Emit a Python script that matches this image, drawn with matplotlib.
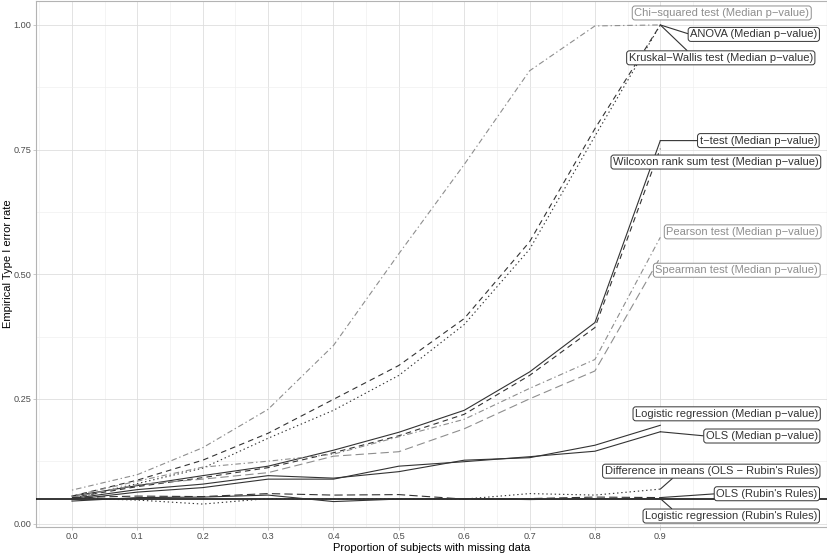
import matplotlib
matplotlib.use("Agg")
import matplotlib.pyplot as plt

plt.rcParams["font.family"] = ["Liberation Sans", "DejaVu Sans"]
plt.rcParams["lines.scale_dashes"] = False

# proportion of subjects with missing data
missing = [0.0, 0.1, 0.2, 0.3, 0.4, 0.5, 0.6, 0.7, 0.8, 0.9]

# empirical type I error rate per method
chi_squared = [0.067, 0.098, 0.152, 0.229, 0.357, 0.541, 0.720, 0.908, 0.998, 1.000]
anova = [0.055, 0.087, 0.127, 0.181, 0.249, 0.317, 0.411, 0.565, 0.792, 1.000]
kruskal = [0.050, 0.080, 0.111, 0.171, 0.227, 0.297, 0.399, 0.550, 0.777, 1.000]
t_test = [0.055, 0.076, 0.096, 0.115, 0.147, 0.183, 0.227, 0.304, 0.403, 0.768]
wilcoxon = [0.052, 0.074, 0.092, 0.112, 0.142, 0.176, 0.219, 0.297, 0.393, 0.752]
pearson = [0.055, 0.085, 0.113, 0.125, 0.139, 0.174, 0.209, 0.271, 0.329, 0.574]
spearman = [0.052, 0.078, 0.089, 0.102, 0.135, 0.144, 0.190, 0.250, 0.306, 0.534]
logistic_median = [0.050, 0.068, 0.079, 0.096, 0.091, 0.104, 0.127, 0.132, 0.157, 0.197]
ols_median = [0.048, 0.063, 0.072, 0.089, 0.089, 0.115, 0.124, 0.134, 0.145, 0.184]
diff_means_rr = [0.051, 0.047, 0.039, 0.050, 0.049, 0.050, 0.049, 0.060, 0.057, 0.069]
ols_rr = [0.052, 0.055, 0.054, 0.060, 0.057, 0.058, 0.049, 0.050, 0.053, 0.052]
logistic_rr = [0.045, 0.052, 0.053, 0.057, 0.044, 0.049, 0.050, 0.048, 0.050, 0.050]

NOMINAL = 0.05

DARK = "#333333"
LIGHT = "#8e8e8e"

SOLID = "-"
DASHED = (0, (4, 3))
DOTTED = (0, (1, 2))
DOTDASH = (0, (1, 2, 4, 2))
LONGDASH = (0, (6, 3))

# label, values, colour, linestyle, label centre (x, y), segment anchor on box
SERIES = [
    ("Chi−squared test (Median p−value)", chi_squared, LIGHT, DOTDASH, (0.994, 1.024), None),
    ("ANOVA (Median p−value)", anova, DARK, DASHED, (1.043, 0.981), (0.0, 0.5)),
    ("Kruskal−Wallis test (Median p−value)", kruskal, DARK, DOTTED, (0.9925, 0.934), (0.33, 1.0)),
    ("t−test (Median p−value)", t_test, DARK, SOLID, (1.050, 0.768), (0.0, 0.5)),
    ("Wilcoxon rank sum test (Median p−value)", wilcoxon, DARK, DASHED, (0.985, 0.725), None),
    ("Pearson test (Median p−value)", pearson, LIGHT, DOTDASH, (1.026, 0.585), None),
    ("Spearman test (Median p−value)", spearman, LIGHT, LONGDASH, (1.017, 0.508), None),
    ("Logistic regression (Median p−value)", logistic_median, DARK, SOLID, (1.0015, 0.220), None),
    ("OLS (Median p−value)", ols_median, DARK, SOLID, (1.0553, 0.1755), (0.0, 0.5)),
    ("Difference in means (OLS − Rubin's Rules)", diff_means_rr, DARK, DOTTED, (0.978, 0.105), (0.33, 0.0)),
    ("OLS (Rubin's Rules)", ols_rr, DARK, LONGDASH, (1.063, 0.0597), (0.0, 0.5)),
    ("Logistic regression (Rubin's Rules)", logistic_rr, DARK, SOLID, (1.0085, 0.015), (0.17, 1.0)),
]

fig = plt.figure(figsize=(8.28, 5.55), dpi=100)
ax = fig.add_axes([36 / 828, 1 - 527 / 555, 791 / 828, 526 / 555])

ax.set_xlim(-0.055, 1.155)
ax.set_ylim(-0.007, 1.048)

ax.set_xticks(missing)
ax.set_xticklabels([f"{v:.1f}" for v in missing])
ax.set_xticks([-0.05 + 0.05 * i for i in range(22) if i % 2 == 0], minor=True)
ax.set_yticks([0.0, 0.25, 0.5, 0.75, 1.0])
ax.set_yticklabels(["0.00", "0.25", "0.50", "0.75", "1.00"])
ax.set_yticks([0.125, 0.375, 0.625, 0.875], minor=True)

ax.grid(which="major", color="#dedede", linewidth=0.6)
ax.grid(which="minor", color="#ededed", linewidth=0.4)
ax.set_axisbelow(True)
ax.tick_params(which="major", length=2.2, width=0.5, color="#b3b3b3",
               labelsize=6.6, labelcolor="#4d4d4d", pad=1.2)
ax.tick_params(which="minor", length=0)
for spine in ax.spines.values():
    spine.set_color("#b3b3b3")
    spine.set_linewidth(0.8)

ax.axhline(NOMINAL, color="black", linewidth=1.1, zorder=3)

for label, values, colour, style, pos, anchor in SERIES:
    ax.plot(missing, values, color=colour, linestyle=style, linewidth=0.8, zorder=4)
    arrow = None
    if anchor is not None:
        arrow = dict(arrowstyle="-", color=DARK, linewidth=0.8,
                     shrinkA=0, shrinkB=0, relpos=anchor)
    ax.annotate(
        label,
        xy=(missing[-1], values[-1]),
        xytext=pos,
        ha="center",
        va="center",
        fontsize=8,
        color=colour,
        bbox=dict(boxstyle="round,pad=0.18,rounding_size=0.25", fc="white",
                  ec=colour, linewidth=0.7),
        arrowprops=arrow,
        zorder=5,
    )

ax.set_xlabel("Proportion of subjects with missing data", fontsize=8, labelpad=1.5)
ax.set_ylabel("Empirical Type I error rate", fontsize=8)
ax.yaxis.set_label_coords(-0.0287, 0.5)

fig.savefig("out.png", dpi=100)
